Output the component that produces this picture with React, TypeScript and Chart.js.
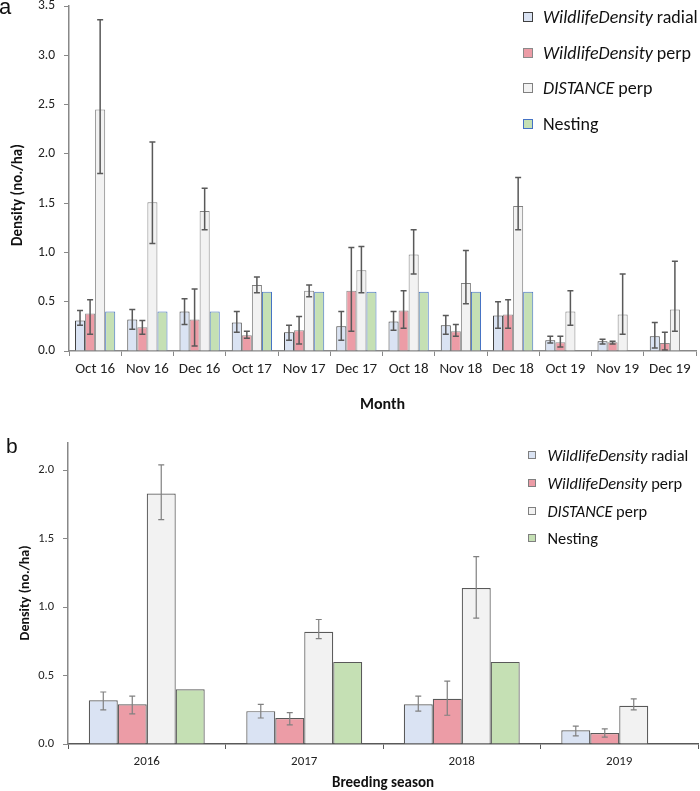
import React, { useEffect, useRef } from "react";
import { Chart, registerables } from "chart.js";
Chart.register(...registerables);

const FONT = "Calibri, Carlito, Lato, 'Liberation Sans', sans-serif";

// ---- Panel a data ----
const months = ["Oct 16", "Nov 16", "Dec 16", "Oct 17", "Nov 17", "Dec 17", "Oct 18", "Nov 18", "Dec 18", "Oct 19", "Nov 19", "Dec 19"];
const radialA = [0.31, 0.32, 0.40, 0.29, 0.19, 0.25, 0.30, 0.26, 0.36, 0.11, 0.10, 0.15];
const radialALo = [0.26, 0.22, 0.27, 0.19, 0.11, 0.11, 0.21, 0.17, 0.23, 0.08, 0.07, 0.03];
const radialAHi = [0.41, 0.42, 0.53, 0.40, 0.26, 0.40, 0.40, 0.36, 0.50, 0.15, 0.12, 0.29];
const perpA = [0.38, 0.24, 0.32, 0.16, 0.21, 0.61, 0.41, 0.20, 0.37, 0.09, 0.09, 0.08];
const perpALo = [0.17, 0.17, 0.05, 0.13, 0.07, 0.20, 0.23, 0.15, 0.23, 0.04, 0.07, 0.01];
const perpAHi = [0.52, 0.31, 0.63, 0.20, 0.35, 1.05, 0.61, 0.27, 0.52, 0.15, 0.10, 0.19];
const distA = [2.45, 1.51, 1.42, 0.67, 0.61, 0.82, 0.98, 0.69, 1.47, 0.40, 0.37, 0.42];
const distALo = [1.80, 1.09, 1.23, 0.59, 0.55, 0.59, 0.78, 0.48, 1.23, 0.26, 0.17, 0.20];
const distAHi = [3.36, 2.12, 1.65, 0.75, 0.67, 1.06, 1.23, 1.02, 1.76, 0.61, 0.78, 0.91];
const nestA = [0.4, 0.4, 0.4, 0.6, 0.6, 0.6, 0.6, 0.6, 0.6, null, null, null];
const yTicksA = [0, 0.5, 1.0, 1.5, 2.0, 2.5, 3.0, 3.5];

// ---- Panel b data ----
const seasons = ["2016", "2017", "2018", "2019"];
const radialB = [0.32, 0.24, 0.29, 0.10];
const radialBLo = [0.25, 0.19, 0.24, 0.06];
const radialBHi = [0.38, 0.29, 0.35, 0.13];
const perpB = [0.29, 0.19, 0.33, 0.08];
const perpBLo = [0.22, 0.14, 0.21, 0.05];
const perpBHi = [0.35, 0.23, 0.46, 0.11];
const distB = [1.83, 0.82, 1.14, 0.28];
const distBLo = [1.64, 0.77, 0.92, 0.25];
const distBHi = [2.04, 0.91, 1.37, 0.33];
const nestB = [0.4, 0.6, 0.6, null];
const yTicksB = [0, 0.5, 1.0, 1.5, 2.0];

const C_RADIAL = "#DAE3F3";
const C_PERP = "#EC9CA6";
const C_DIST = "#F2F2F2";
const C_NEST = "#C5E0B4";

const errorBarPlugin = {
  id: "errorBars",
  afterDatasetsDraw(chart: any, _args: any, opts: any) {
    const ctx = chart.ctx;
    const y = chart.scales.y;
    chart.data.datasets.forEach((ds: any, i: number) => {
      if (!ds.errLo) return;
      const meta = chart.getDatasetMeta(i);
      meta.data.forEach((bar: any, j: number) => {
        const lo = ds.errLo[j];
        const hi = ds.errHi[j];
        if (lo == null || hi == null) return;
        const x = bar.x;
        const yl = y.getPixelForValue(lo);
        const yh = y.getPixelForValue(hi);
        ctx.save();
        ctx.strokeStyle = opts.color;
        ctx.lineWidth = opts.width;
        ctx.beginPath();
        ctx.moveTo(x, yl);
        ctx.lineTo(x, yh);
        ctx.moveTo(x - opts.cap, yl);
        ctx.lineTo(x + opts.cap, yl);
        ctx.moveTo(x - opts.cap, yh);
        ctx.lineTo(x + opts.cap, yh);
        ctx.stroke();
        ctx.restore();
      });
    });
  },
};

const yTitlePlugin = {
  id: "yTitle",
  afterDraw(chart: any, _args: any, opts: any) {
    const { ctx, chartArea } = chart;
    const cy = chartArea.top + (chartArea.bottom - chartArea.top) * opts.frac;
    ctx.save();
    ctx.translate(opts.x, cy);
    ctx.rotate(-Math.PI / 2);
    ctx.font = opts.font;
    ctx.fillStyle = opts.color;
    ctx.textAlign = "center";
    ctx.textBaseline = "middle";
    ctx.fillText(opts.text, 0, 0);
    ctx.restore();
  },
};

function makeConfig(p: any) {
  return {
    type: "bar",
    data: {
      labels: p.labels,
      datasets: p.datasets,
    },
    plugins: [errorBarPlugin, yTitlePlugin],
    options: {
      responsive: false,
      animation: false,
      layout: { padding: p.padding },
      datasets: { bar: { categoryPercentage: p.catPct, barPercentage: 1 } },
      plugins: {
        legend: { display: false },
        tooltip: { enabled: false },
        errorBars: p.err,
        yTitle: p.yTitle,
      },
      scales: {
        x: {
          grid: { display: true, drawOnChartArea: false, drawTicks: true, tickLength: 5, color: p.xAxisColor, offset: true, lineWidth: 1 },
          border: { display: true, color: p.xAxisColor, width: 1.5 },
          ticks: { font: { family: FONT, size: p.xTickSize, lineHeight: 1.2 }, color: "#222", padding: p.xTickPad, maxRotation: 0, minRotation: 0, autoSkip: false },
          title: { display: true, text: p.xTitle, font: { family: FONT, size: p.xTitleSize, weight: "bold", lineHeight: 1.1 }, color: "#111", padding: { top: 0, bottom: p.xTitlePad } },
          afterFit: (s: any) => {
            s.height = p.xHeight;
            s.paddingLeft = 0;
            s.paddingRight = 0;
          },
        },
        y: {
          min: 0,
          max: p.yMax,
          grid: { display: true, drawOnChartArea: false, drawTicks: true, tickLength: 5, color: "#888", lineWidth: 1 },
          border: { display: true, color: "#888", width: 1.5 },
          ticks: {
            font: { family: FONT, size: p.yTickSize, lineHeight: 1 },
            color: "#222",
            padding: 9,
            callback: (v: any) => Number(v).toFixed(1),
          },
          afterBuildTicks: (axis: any) => { axis.ticks = p.yTicks.map((v: number) => ({ value: v })); },
          afterFit: (s: any) => {
            s.width = p.yWidth;
            s.paddingTop = 0;
            s.paddingBottom = 0;
          },
        },
      },
    },
  };
}

const legendItems = [
  { it: "WildlifeDensity", rest: " radial", fill: C_RADIAL, borderA: "#404040" },
  { it: "WildlifeDensity", rest: " perp", fill: C_PERP, borderA: "#8a8a8a" },
  { it: "DISTANCE", rest: " perp", fill: C_DIST, borderA: "#808080" },
  { it: "", rest: "Nesting", fill: C_NEST, borderA: "#4472C4" },
];

export default function App() {
  const refA = useRef<HTMLCanvasElement>(null);
  const refB = useRef<HTMLCanvasElement>(null);

  useEffect(() => {
    const chartA = new Chart(refA.current as HTMLCanvasElement, makeConfig({
      labels: months,
      datasets: [
        { label: "WildlifeDensity radial", data: radialA, errLo: radialALo, errHi: radialAHi, backgroundColor: C_RADIAL, borderColor: "#404040", borderWidth: 1 },
        { label: "WildlifeDensity perp", data: perpA, errLo: perpALo, errHi: perpAHi, backgroundColor: C_PERP, borderColor: "#8a8a8a", borderWidth: 1 },
        { label: "DISTANCE perp", data: distA, errLo: distALo, errHi: distAHi, backgroundColor: C_DIST, borderColor: "#808080", borderWidth: 1 },
        { label: "Nesting", data: nestA, backgroundColor: C_NEST, borderColor: "#4472C4", borderWidth: 1 },
      ],
      padding: { left: 0, right: 4, top: 6, bottom: 0 },
      catPct: 0.77,
      err: { color: "#595959", width: 1.5, cap: 3 },
      yTitle: { text: "Density (no./ha)", x: 18, frac: 0.548, font: `bold 15px ${FONT}`, color: "#111" },
      xAxisColor: "#888",
      xTickSize: 15,
      xTickPad: 4,
      xTitle: "Month",
      xTitleSize: 16,
      xTitlePad: 22,
      xHeight: 85,
      yMax: 3.5,
      yTicks: yTicksA,
      yTickSize: 13.5,
      yWidth: 69,
    }) as any);

    const chartB = new Chart(refB.current as HTMLCanvasElement, makeConfig({
      labels: seasons,
      datasets: [
        { label: "WildlifeDensity radial", data: radialB, errLo: radialBLo, errHi: radialBHi, backgroundColor: C_RADIAL, borderColor: "#595959", borderWidth: 1.2 },
        { label: "WildlifeDensity perp", data: perpB, errLo: perpBLo, errHi: perpBHi, backgroundColor: C_PERP, borderColor: "#595959", borderWidth: 1.2 },
        { label: "DISTANCE perp", data: distB, errLo: distBLo, errHi: distBHi, backgroundColor: C_DIST, borderColor: "#595959", borderWidth: 1.2 },
        { label: "Nesting", data: nestB, backgroundColor: C_NEST, borderColor: "#595959", borderWidth: 1.2 },
      ],
      padding: { left: 0, right: 2, top: 7, bottom: 0 },
      catPct: 0.736,
      err: { color: "#808080", width: 1.2, cap: 3 },
      yTitle: { text: "Density (no./ha)", x: 25, frac: 0.498, font: `bold 14px ${FONT}`, color: "#111" },
      xAxisColor: "#595959",
      xTickSize: 13,
      xTickPad: 5,
      xTitle: "Breeding season",
      xTitleSize: 15,
      xTitlePad: 0,
      xHeight: 47,
      yMax: 2.2,
      yTicks: yTicksB,
      yTickSize: 12.5,
      yWidth: 68,
    }) as any);

    return () => {
      chartA.destroy();
      chartB.destroy();
    };
  }, []);

  const legend = (top: number, rowH: number, sq: number, left: number, textLeft: number, size: number, panel: "a" | "b") => (
    <div style={{ position: "absolute", left, top, fontFamily: FONT, fontSize: size, color: "#111" }}>
      {legendItems.map((it, i) => (
        <div key={i} style={{ position: "absolute", top: i * rowH - rowH / 2, left: 0, height: rowH, display: "flex", alignItems: "center", whiteSpace: "nowrap" }}>
          <div style={{ width: sq, height: sq, boxSizing: "border-box", background: it.fill, border: `1px solid ${panel === "a" ? it.borderA : "#7f7f7f"}` }} />
          <div style={{ marginLeft: textLeft - sq }}>
            {it.it ? <i>{it.it}</i> : null}
            {it.rest}
          </div>
        </div>
      ))}
    </div>
  );

  return (
    <div style={{ position: "absolute", left: 0, top: 0, width: 700, height: 791, background: "#fff", overflow: "hidden" }}>
      <canvas ref={refA} width={700} height={436} style={{ position: "absolute", left: 0, top: 0, width: 700, height: 436 }} />
      <canvas ref={refB} width={700} height={355} style={{ position: "absolute", left: 0, top: 436, width: 700, height: 355 }} />
      <div style={{ position: "absolute", left: -1, top: -4, fontFamily: "'Liberation Sans', Arial, sans-serif", fontSize: 22, lineHeight: 1, color: "#111" }}>a</div>
      <div style={{ position: "absolute", left: 6, top: 435, fontFamily: "'Liberation Sans', Arial, sans-serif", fontSize: 21, lineHeight: 1, color: "#111" }}>b</div>
      {legend(17, 35.7, 10, 523, 20, 18, "a")}
      {legend(455, 27.8, 8, 528, 19.5, 16.4, "b")}
    </div>
  );
}
